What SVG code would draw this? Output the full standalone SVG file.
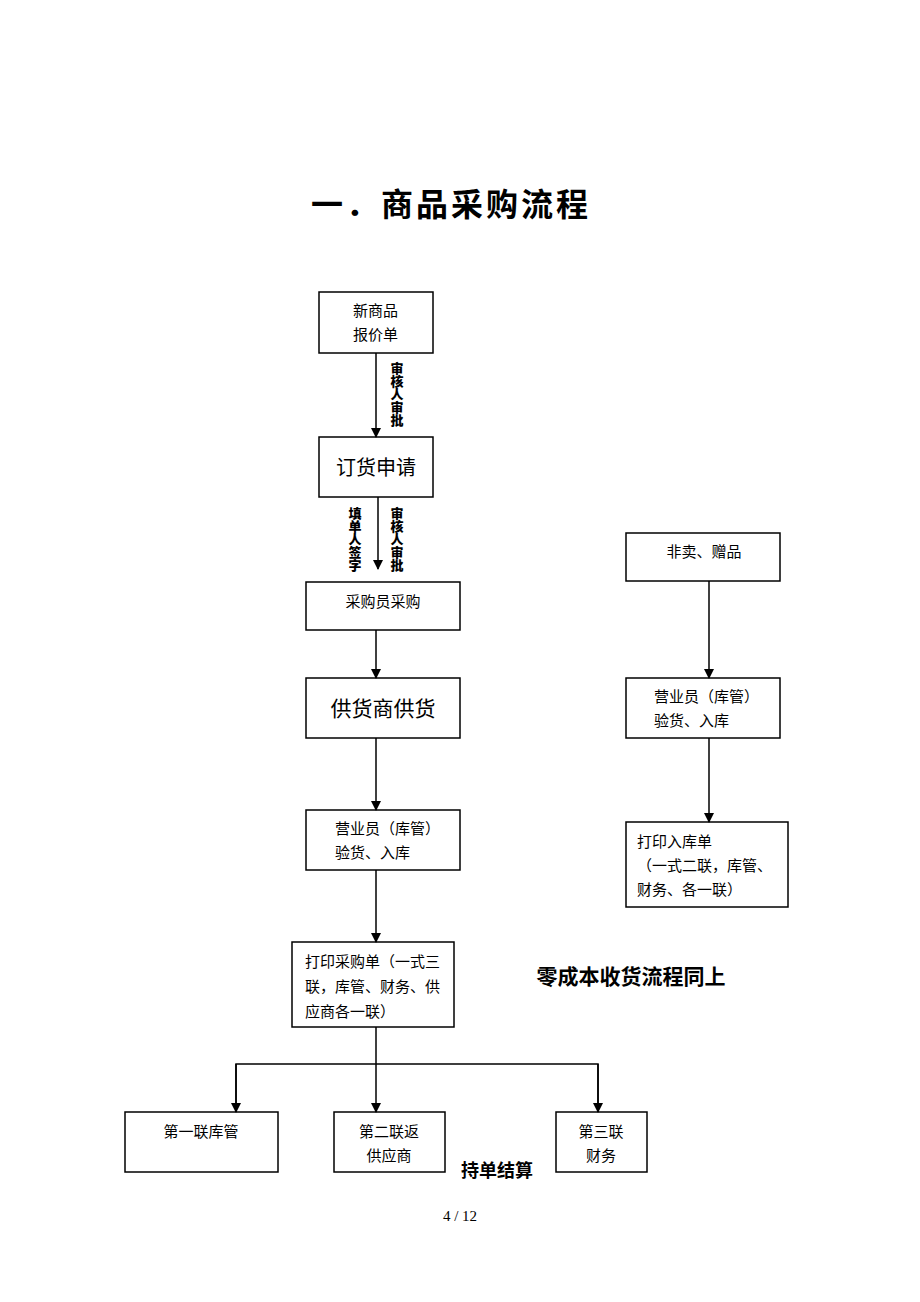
<svg xmlns="http://www.w3.org/2000/svg" width="920" height="1302" viewBox="0 0 920 1302">
<style>
.box{fill:#fff;stroke:#000;stroke-width:1.5}
.t{font-family:"Liberation Serif","Noto Sans CJK SC",serif;font-size:15px;fill:#000}
.b{font-family:"Noto Sans CJK SC",sans-serif;font-weight:bold;fill:#000}
.v{font-family:"Noto Sans CJK SC",sans-serif;font-weight:900;font-size:13px;fill:#000;writing-mode:vertical-rl}
.ln{stroke:#000;stroke-width:1.5;fill:none}
</style>
<defs>
<marker id="ah" markerWidth="10" markerHeight="10" refX="9" refY="5" orient="auto" markerUnits="userSpaceOnUse"><path d="M0,0 L10,5 L0,10 z" fill="#000"/></marker>
</defs>
<rect width="920" height="1302" fill="#fff"/>
<text class="b" x="451" y="216" style="font-size:32px;letter-spacing:3px" text-anchor="middle">一．商品采购流程</text>

<g id="n1"><rect class="box" x="319" y="292" width="114" height="61"/><text class="t" x="353" y="316">新商品</text><text class="t" x="353" y="340">报价单</text></g>
<g id="n2"><rect class="box" x="319" y="437" width="114" height="60"/><text class="t" x="376" y="475" style="font-size:20px" text-anchor="middle">订货申请</text></g>
<g id="n3"><rect class="box" x="306" y="582" width="154" height="48"/><text class="t" x="383" y="607" text-anchor="middle">采购员采购</text></g>
<g id="n4"><rect class="box" x="306" y="678" width="154" height="60"/><text class="t" x="383" y="716" style="font-size:21px" text-anchor="middle">供货商供货</text></g>
<g id="n5"><rect class="box" x="306" y="810" width="154" height="60"/><text class="t" x="335" y="834">营业员（库管）</text><text class="t" x="335" y="858">验货、入库</text></g>
<g id="n6"><rect class="box" x="292" y="942" width="162" height="85"/><text class="t" x="305" y="967">打印采购单（一式三</text><text class="t" x="305" y="992">联，库管、财务、供</text><text class="t" x="305" y="1017">应商各一联）</text></g>
<g id="n7"><rect class="box" x="125" y="1112" width="153" height="60"/><text class="t" x="201" y="1137" text-anchor="middle">第一联库管</text></g>
<g id="n8"><rect class="box" x="334" y="1112" width="111" height="60"/><text class="t" x="389" y="1137" text-anchor="middle">第二联返</text><text class="t" x="389" y="1161" text-anchor="middle">供应商</text></g>
<g id="n9"><rect class="box" x="556" y="1112" width="91" height="60"/><text class="t" x="601" y="1137" text-anchor="middle">第三联</text><text class="t" x="601" y="1161" text-anchor="middle">财务</text></g>
<g id="n10"><rect class="box" x="626" y="533" width="154" height="48"/><text class="t" x="704" y="557" text-anchor="middle">非卖、赠品</text></g>
<g id="n11"><rect class="box" x="626" y="678" width="154" height="60"/><text class="t" x="654" y="702">营业员（库管）</text><text class="t" x="654" y="726">验货、入库</text></g>
<g id="n12"><rect class="box" x="626" y="822" width="162" height="85"/><text class="t" x="637" y="847">打印入库单</text><text class="t" x="637" y="871">（一式二联，库管、</text><text class="t" x="637" y="895">财务、各一联）</text></g>

<text class="b" x="631" y="984" style="font-size:21px" text-anchor="middle">零成本收货流程同上</text>
<text class="b" x="497" y="1177" style="font-size:18px" text-anchor="middle">持单结算</text>
<text x="460" y="1221" font-family="Liberation Serif,serif" font-size="15" text-anchor="middle">4 / 12</text>

<g id="labels">
<text class="v" x="397" y="362">审核人审批</text>
<text class="v" x="355" y="507">填单人签字</text>
<text class="v" x="397" y="507">审核人审批</text>
</g>

<g id="connectors">
<line class="ln" x1="376" y1="353" x2="376" y2="437" marker-end="url(#ah)"/>
<line class="ln" x1="378" y1="497" x2="378" y2="569" marker-end="url(#ah)"/>
<line class="ln" x1="376" y1="630" x2="376" y2="678" marker-end="url(#ah)"/>
<line class="ln" x1="376" y1="738" x2="376" y2="810" marker-end="url(#ah)"/>
<line class="ln" x1="376" y1="870" x2="376" y2="942" marker-end="url(#ah)"/>
<line class="ln" x1="376" y1="1027" x2="376" y2="1112" marker-end="url(#ah)"/>
<polyline class="ln" points="236,1112 236,1064 598,1064 598,1112"/>
<line class="ln" x1="236" y1="1064" x2="236" y2="1112" marker-end="url(#ah)"/>
<line class="ln" x1="598" y1="1064" x2="598" y2="1112" marker-end="url(#ah)"/>
<line class="ln" x1="709" y1="581" x2="709" y2="678" marker-end="url(#ah)"/>
<line class="ln" x1="709" y1="738" x2="709" y2="822" marker-end="url(#ah)"/>
</g>
</svg>
